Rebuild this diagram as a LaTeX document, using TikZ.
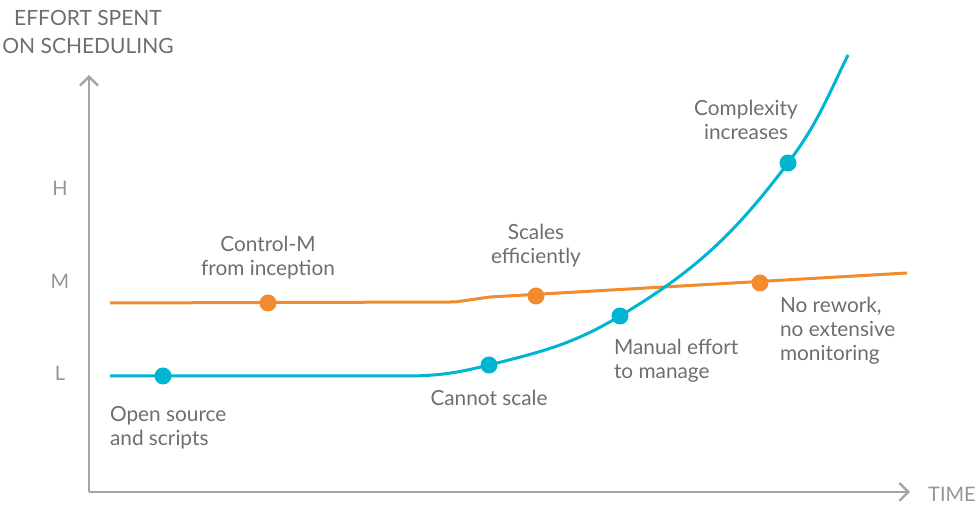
\documentclass[tikz,border=0pt]{standalone}
\usepackage{fontspec}
\setmainfont{Lato}
\usepackage{xcolor}
\usetikzlibrary{positioning,arrows.meta}
\definecolor{lineblue}{HTML}{00B5D1}
\definecolor{lineorange}{HTML}{F28A2E}
\definecolor{axisgray}{HTML}{A3A6A9}
\definecolor{textgray}{HTML}{6D6E71}
\tikzset{
    axis/.style={draw=axisgray, line width=1.2pt, -{Straight Barb[length=4.5pt, width=9pt]}},
    ticklabel/.style={text=axisgray!90!black, font=\fontsize{10}{12}\selectfont},
    title/.style={text=textgray, align=center, font=\fontsize{10.5}{14}\selectfont},
    lbl/.style={text=textgray, font=\fontsize{10.4}{12}\selectfont},
    bluecurve/.style={draw=lineblue, line width=1.5pt},
    orangecurve/.style={draw=lineorange, line width=1.5pt},
    bluedot/.style={circle, fill=lineblue, inner sep=0pt, minimum size=8.5pt},
    orangedot/.style={circle, fill=lineorange, inner sep=0pt, minimum size=8.5pt}
}

\begin{document}
\begin{tikzpicture}[x=0.5pt, y=0.5pt]
    \useasboundingbox (0,0) rectangle (976,506);

    % axes
    \coordinate (origin) at (89,14);
    \coordinate (ytop) at (89,431);
    \coordinate (xend) at (910,14);
    \draw[axis] (origin) -- (ytop);
    \draw[axis] (origin) -- (xend);
    \node[title] (ytitle) at (88,474) {EFFORT SPENT\\ON SCHEDULING};
    \node[ticklabel] (xtitle) at (952,12) {TIME};
    \node[ticklabel] (hlevel) at (60,318) {H};
    \node[ticklabel] (mlevel) at (60,225) {M};
    \node[ticklabel] (llevel) at (60,133) {L};

    % orange line
    \coordinate (o0) at (110,203);
    \coordinate (o1) at (455,204);
    \coordinate (o2) at (490,209);
    \coordinate (o3) at (907,233);
    \draw[orangecurve] (o0) -- (o1) -- (o2) -- (o3);

    % blue line
    \coordinate (b0) at (110,130);
    \coordinate (b1) at (405,130);
    \coordinate (b2) at (489,141);
    \coordinate (b3) at (620,190);
    \coordinate (b4) at (788,343);
    \coordinate (b5) at (848,451);
    \draw[bluecurve] (b0) -- (b1)
        to[out=0, in=194] (b2)
        to[out=14, in=211] (b3)
        to[out=31, in=233] (b4)
        to[out=53, in=244] (b5);

    % dots
    \node[bluedot] (open) at (163,130) {};
    \node[bluedot] (cannot) at (b2) {};
    \node[bluedot] (manual) at (b3) {};
    \node[bluedot] (complex) at (b4) {};
    \node[orangedot] (ctrl) at (268,203) {};
    \node[orangedot] (scale) at (536,210) {};
    \node[orangedot] (rework) at (760,223) {};

    % labels
    \node[lbl, align=center] (ctrllbl) at (268,248) {Control-M\\from inception};
    \node[lbl, align=center] (scalelbl) at (536,260) {Scales\\efficiently};
    \node[lbl, align=center] (complexlbl) at (746,386) {Complexity\\increases};
    \node[lbl, align=left, anchor=west] (reworklbl) at (773,175) {No rework,\\no extensive\\monitoring};
    \node[lbl, align=left, anchor=west] (manuallbl) at (607,145) {Manual effort\\to manage};
    \node[lbl] (cannotlbl) at (489,108) {Cannot scale};
    \node[lbl, align=left, anchor=west] (openlbl) at (103,78) {Open source\\and scripts};
\end{tikzpicture}
\end{document}
